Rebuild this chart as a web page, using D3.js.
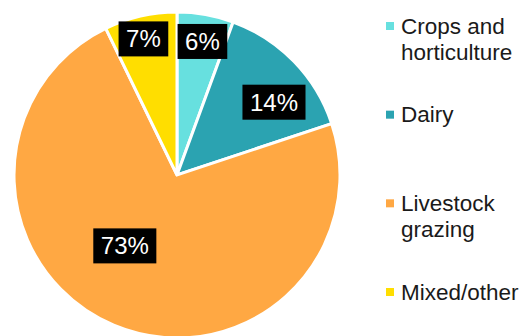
<!DOCTYPE html>
<meta charset="utf-8">
<style>
body { margin: 0; background: #fff; }
.legend text { font-family: "Liberation Sans", Arial, sans-serif; font-size: 22.5px; fill: #1a1a1a; }
.labels text { font-family: "Liberation Sans", Arial, sans-serif; font-size: 24px; fill: #fff; }
</style>
<svg width="530" height="336"></svg>
<script src="https://d3js.org/d3.v7.min.js"></script>
<script>

var categories = ["Crops and horticulture", "Dairy", "Livestock grazing", "Mixed/other"];
var shares = [5.6, 14.3, 72.9, 7.2];
var colours = ["#67e0df", "#2ba3b1", "#ffa843", "#ffde00"];

var svg = d3.select("svg"),
    width = +svg.attr("width"),
    height = +svg.attr("height");

var radius = 163,
    cx = 177,
    cy = 175;

// label placement tweaks (angle shift in degrees, fraction of radius), like Excel's best fit
var labelTweak = [[0.7, 0.834], [7.2, 0.744], [13.5, 0.54], [-0.9, 0.86]];

var pie = d3.pie().sort(null).value(function(d) { return d; });
var arcs = pie(shares);

var arc = d3.arc().innerRadius(0).outerRadius(radius);

var g = svg.append("g").attr("transform", "translate(" + cx + "," + cy + ")");

g.selectAll("path")
  .data(arcs)
  .enter()
  .append("path")
    .attr("d", arc)
    .attr("fill", function(d, i) { return colours[i]; })
    .attr("stroke", "#fff")
    .attr("stroke-width", 3)
    .attr("stroke-linejoin", "miter");

var labels = g.append("g").attr("class", "labels");

arcs.forEach(function(d, i) {
  var t = labelTweak[i];
  var a = (d.startAngle + d.endAngle) / 2 + t[0] * Math.PI / 180;
  var r = t[1] * radius;
  var x = Math.sin(a) * r,
      y = -Math.cos(a) * r;
  var lg = labels.append("g").attr("transform", "translate(" + x + "," + y + ")");
  var box = lg.append("rect").attr("fill", "#000");
  var txt = lg.append("text")
    .attr("text-anchor", "middle")
    .attr("y", 8.5)
    .text(Math.round(d.value) + "%");
  var w = txt.node().getComputedTextLength();
  box.attr("x", -w / 2 - 7.5)
     .attr("y", -17.5)
     .attr("width", w + 15)
     .attr("height", 35);
});

// legend
var legend = svg.append("g").attr("class", "legend");
var rowY = d3.scaleLinear().domain([0, categories.length - 1]).range([26, 292]);

categories.forEach(function(name, i) {
  var y = rowY(i);
  legend.append("rect")
    .attr("x", 386)
    .attr("y", y - 4)
    .attr("width", 8)
    .attr("height", 8)
    .attr("fill", colours[i]);
  var text = legend.append("text")
    .attr("x", 401)
    .attr("y", y + 7.5);
  // simple word wrap
  var words = name.split(" "), line = [], lineNo = 0;
  var tspan = text.append("tspan").attr("x", 401).attr("dy", 0);
  words.forEach(function(w) {
    line.push(w);
    tspan.text(line.join(" "));
    if (tspan.node().getComputedTextLength() > 125 && line.length > 1) {
      line.pop();
      tspan.text(line.join(" "));
      line = [w];
      lineNo++;
      tspan = text.append("tspan").attr("x", 401).attr("dy", 26.5).text(w);
    }
  });
});

</script>
